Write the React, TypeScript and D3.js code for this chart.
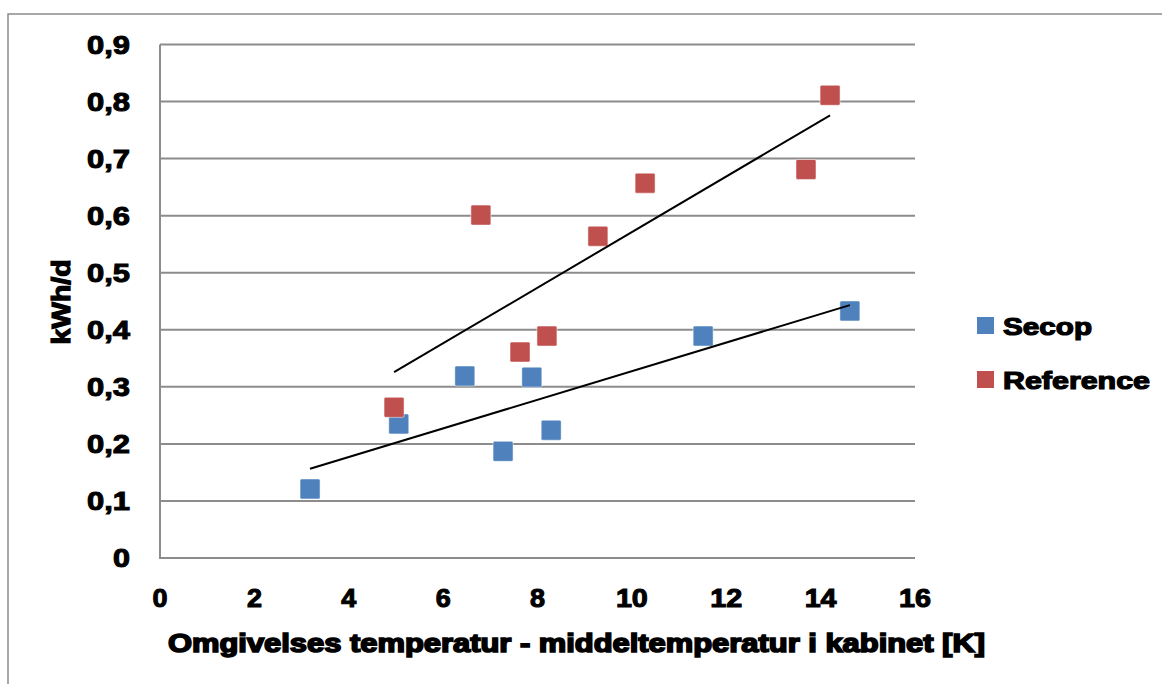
import React from "react";
import * as d3 from "d3";

const secopX = [3.18, 5.06, 6.46, 7.27, 7.88, 8.29, 11.51, 14.62];
const secopY = [0.121, 0.235, 0.319, 0.187, 0.317, 0.224, 0.389, 0.433];
const refX = [4.96, 6.8, 7.63, 8.2, 9.28, 10.28, 13.69, 14.2];
const refY = [0.264, 0.601, 0.361, 0.389, 0.564, 0.657, 0.681, 0.811];
const xTicks = [0, 2, 4, 6, 8, 10, 12, 14, 16];
const yTicks = [0, 0.1, 0.2, 0.3, 0.4, 0.5, 0.6, 0.7, 0.8, 0.9];
const seriesNames = ["Secop", "Reference"];
const colors = ["#4F81BD", "#C0504D"];

function regression(xs: number[], ys: number[]) {
  const mx = d3.mean(xs)!;
  const my = d3.mean(ys)!;
  let sxy = 0, sxx = 0;
  xs.forEach((x, i) => { sxy += (x - mx) * (ys[i] - my); sxx += (x - mx) * (x - mx); });
  const b = sxy / sxx;
  const a = my - b * mx;
  const x0 = d3.min(xs)!, x1 = d3.max(xs)!;
  return [[x0, a + b * x0], [x1, a + b * x1]] as [number, number][];
}

export default function App() {
  const x = d3.scaleLinear().domain([0, 16]).range([160, 915]);
  const y = d3.scaleLinear().domain([0, 0.9]).range([558, 44.5]);
  const fmt = (v: number) => (v === 0 ? "0" : v.toFixed(1).replace(".", ","));
  const series = [
    { xs: secopX, ys: secopY },
    { xs: refX, ys: refY },
  ];
  const line = d3.line<[number, number]>().x(d => x(d[0])).y(d => y(d[1]));
  const ms = 20;
  const font = "'Liberation Sans', Arial, sans-serif";
  const legendLens = [89, 147];
  return (
    <svg width={1163} height={684} style={{ position: "absolute", left: 0, top: 0 }} fontFamily={font}>
      <rect x={0} y={0} width={1163} height={684} fill="#fff" />
      <path d="M8,684 V14 H1162" fill="none" stroke="#8c8c8c" strokeWidth={1.5} />
      {yTicks.filter(t => t > 0).map(t => (
        <line key={t} x1={160} x2={915} y1={y(t)} y2={y(t)} stroke="#8c8c8c" strokeWidth={2} />
      ))}
      <path d={`M${x(0)},${y(0.9)} V${y(0)} H${x(16)}`} fill="none" stroke="#8c8c8c" strokeWidth={2} />
      {yTicks.map(t => (
        <text key={t} x={130} y={y(t) + 9} textAnchor="end" fontSize={25} fontWeight="bold" stroke="#000" strokeWidth={1}
          textLength={t === 0 ? 17 : 43} lengthAdjust="spacingAndGlyphs">{fmt(t)}</text>
      ))}
      {xTicks.map(t => (
        <text key={t} x={x(t)} y={607} textAnchor="middle" fontSize={25} fontWeight="bold" stroke="#000" strokeWidth={1}
          textLength={t >= 10 ? 32 : 15} lengthAdjust="spacingAndGlyphs">{t}</text>
      ))}
      <text x={576.5} y={652} textAnchor="middle" fontSize={25} fontWeight="bold" stroke="#000" strokeWidth={1.6} textLength={817} lengthAdjust="spacingAndGlyphs">Omgivelses temperatur - middeltemperatur i kabinet [K]</text>
      <text transform="translate(70,302) rotate(-90)" textAnchor="middle" fontSize={25} fontWeight="bold" stroke="#000" strokeWidth={1.2} textLength={85} lengthAdjust="spacingAndGlyphs">kWh/d</text>
      {series.map((s, si) => (
        <g key={si}>
          {s.xs.map((xv, i) => (
            <rect key={i} x={x(xv) - ms / 2} y={y(s.ys[i]) - ms / 2} width={ms} height={ms} rx={1.5} fill={colors[si]} stroke="#fff" strokeOpacity={0.5} strokeWidth={1} />
          ))}
        </g>
      ))}
      {series.map((s, si) => (
        <path key={si} d={line(regression(s.xs, s.ys))!} stroke="#000" strokeWidth={2} fill="none" />
      ))}
      {seriesNames.map((n, i) => (
        <g key={n} transform={`translate(977,${317 + i * 54})`}>
          <rect x={0} y={0} width={17} height={17} fill={colors[i]} />
          <text x={26} y={18} fontSize={24} fontWeight="bold" stroke="#000" strokeWidth={1.2} textLength={legendLens[i]} lengthAdjust="spacingAndGlyphs">{n}</text>
        </g>
      ))}
    </svg>
  );
}
